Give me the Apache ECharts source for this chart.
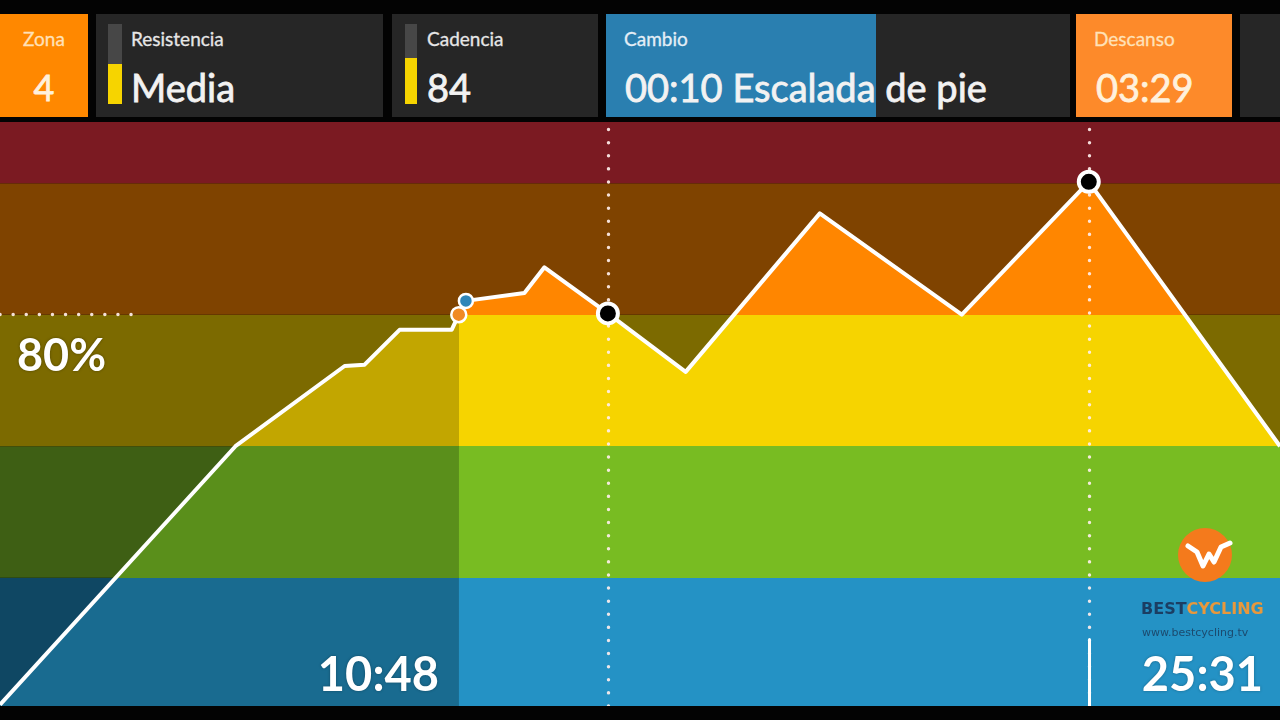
<!DOCTYPE html>
<html>
<head>
<meta charset="utf-8">
<title>Perfil de la clase</title>
<script src="https://cdn.jsdelivr.net/npm/echarts@6/dist/echarts.min.js"></script>
<style>
  html, body { margin: 0; padding: 0; width: 1280px; height: 720px; overflow: hidden; background: #030303; font-family: Lato, 'Open Sans', sans-serif; }
  .panel { position: absolute; top: 14px; height: 103px; background: #262626; color: #f2f2f2; overflow: hidden; }
  .orange { background: #ff8800; color: #fff1dc; }
  .lbl { position: absolute; top: 15px; font-size: 19px; line-height: 19px; color: #e6e6e6; white-space: nowrap; -webkit-text-stroke: 0.3px; }
  .orange .lbl { color: #ffe1b8; }
  .val { position: absolute; top: 54px; font-size: 38px; line-height: 38px; white-space: nowrap; -webkit-text-stroke: 0.8px; }
  .meter { position: absolute; top: 10px; width: 14px; height: 80px; background: #474747; }
  .meter i { position: absolute; left: 0; bottom: 0; width: 100%; background: #f6d400; }
  .progress { position: absolute; left: 0; top: 0; height: 103px; background: #2a7fb0; }
  #chart { position: absolute; left: 0; top: 122px; width: 1280px; height: 584px; }
</style>
</head>
<body>
<!-- barra superior -->
<div class="panel orange" style="left:0;width:88px">
  <div class="lbl" style="left:0;width:88px;text-align:center">Zona</div>
  <div class="val" style="left:0;width:88px;text-align:center;font-size:36px">4</div>
</div>
<div class="panel" style="left:96px;width:287px">
  <div class="meter" style="left:12px"><i style="height:40px"></i></div>
  <div class="lbl" style="left:35px">Resistencia</div>
  <div class="val" style="left:35px">Media</div>
</div>
<div class="panel" style="left:392px;width:206px">
  <div class="meter" style="left:13px;width:12px"><i style="height:46px"></i></div>
  <div class="lbl" style="left:35px">Cadencia</div>
  <div class="val" style="left:35px">84</div>
</div>
<div class="panel" style="left:606px;width:464px">
  <div class="progress" style="width:270px"></div>
  <div class="lbl" style="left:18px;color:#e4eef6">Cambio</div>
  <div class="val" style="left:19px">00:10 Escalada de pie</div>
</div>
<div class="panel orange" style="left:1076px;width:156px;background:#fd8a2a">
  <div class="lbl" style="left:18px">Descanso</div>
  <div class="val" style="left:20px">03:29</div>
</div>
<div class="panel" style="left:1240px;width:40px"></div>

<div id="chart"></div>

<script>
// perfil de la clase: tiempo (s) y carga (% FTP)
var profileTime = [5, 335, 488, 516, 565, 638, 648, 658, 740, 768, 857, 966, 1154, 1353, 1531, 1799]
var profileLoad = [20.7, 60.0, 72.2, 72.4, 77.7, 77.7, 80.0, 82.1, 83.3, 87.2, 80.2, 71.3, 95.4, 80.0, 100.2, 60.0]

var elapsedTime = 648 // 10:48
var elapsedLoad = 80.0
var riderTime = 658
var riderLoad = 82.1
var changeTime = [857, 1531] // cambios de bloque
var changeLoad = [80.2, 100.2]

var zoneEdges = [40, 60, 80, 100] // limites de zona (%)
var thresholdLoad = 80
var thresholdEnd = 191

var xMin = 5
var xMax = 1799
var yMin = 20.5
var yMax = 109.3

var darkColors = ['#0f4763', '#3e5f14', '#7c6a00', '#7f4300', '#7b1a22']
var brightColors = ['#2492c5', '#78bc22', '#f6d400', '#ff8600', '#e0303a']
var doneColors = ['#196b90', '#5a8f1b', '#c2a600', '#c46800', '#a02028']

function fmt(sec) {
  var m = Math.floor(sec / 60)
  var s = sec % 60
  return (m < 10 ? '0' : '') + m + ':' + (s < 10 ? '0' : '') + s
}

function pieces(colors) {
  var list = [{ lt: zoneEdges[0], color: colors[0] }]
  for (var i = 1; i < zoneEdges.length; i++) {
    list.push({ gte: zoneEdges[i - 1], lt: zoneEdges[i], color: colors[i] })
  }
  list.push({ gte: zoneEdges[zoneEdges.length - 1], color: colors[colors.length - 1] })
  return list
}

var profile = profileTime.map(function(t, i) { return [t, profileLoad[i]] })
var done = profile.filter(function(p) { return p[0] <= elapsedTime })
var todo = profile.filter(function(p) { return p[0] >= elapsedTime })

var bounds = [yMin].concat(zoneEdges, [yMax])
var bands = darkColors.map(function(c, i) {
  return [{ yAxis: bounds[i], itemStyle: { color: c } }, { yAxis: bounds[i + 1] }]
})

var dotStyle = { color: 'rgba(255,238,236,0.92)', width: 3.4, type: [0.1, 13], cap: 'round' }
var solidStyle = { color: '#ffffff', width: 3, type: 'solid' }

var chart = echarts.init(document.getElementById('chart'))
var option = {
  animation: false,
  backgroundColor: 'transparent',
  grid: { left: 0, right: 0, top: 0, bottom: 0 },
  xAxis: { type: 'value', min: xMin, max: xMax, show: false },
  yAxis: { type: 'value', min: yMin, max: yMax, show: false },
  visualMap: [
    { type: 'piecewise', show: false, seriesIndex: 1, dimension: 1, pieces: pieces(doneColors) },
    { type: 'piecewise', show: false, seriesIndex: 2, dimension: 1, pieces: pieces(brightColors) }
  ],
  series: [
    {
      name: 'zonas',
      type: 'line',
      z: 1,
      data: [[xMin, yMin]],
      symbol: 'none',
      lineStyle: { width: 0 },
      markArea: { silent: true, data: bands }
    },
    {
      name: 'hecho',
      type: 'line',
      z: 2,
      data: done,
      symbol: 'none',
      lineStyle: { width: 0 },
      areaStyle: { opacity: 1, origin: 'start' }
    },
    {
      name: 'pendiente',
      type: 'line',
      z: 2,
      data: todo,
      symbol: 'none',
      lineStyle: { width: 0 },
      areaStyle: { opacity: 1, origin: 'start' }
    },
    {
      name: 'perfil',
      type: 'line',
      z: 4,
      data: profile,
      symbol: 'none',
      lineStyle: { color: '#ffffff', width: 4, join: 'round' },
      markLine: {
        silent: true,
        symbol: 'none',
        label: { show: false },
        lineStyle: dotStyle,
        data: [
          { xAxis: changeTime[0] },
          { xAxis: changeTime[1] },
          [{ coord: [xMin, thresholdLoad] }, { coord: [thresholdEnd, thresholdLoad] }],
          [{ coord: [changeTime[1], yMin], lineStyle: solidStyle }, { coord: [changeTime[1], 30.6], lineStyle: solidStyle }]
        ]
      }
    },
    {
      name: 'cambios',
      type: 'scatter',
      z: 10,
      data: changeTime.map(function(t, i) { return [t, changeLoad[i]] }),
      symbolSize: 20,
      itemStyle: { color: '#000000', borderColor: '#ffffff', borderWidth: 4, opacity: 1 }
    },
    {
      name: 'ciclista',
      type: 'scatter',
      z: 11,
      data: [[riderTime, riderLoad]],
      symbolSize: 14,
      itemStyle: { color: '#2f86b9', borderColor: '#ffffff', borderWidth: 2.5, opacity: 1 }
    },
    {
      name: 'posicion',
      type: 'scatter',
      z: 12,
      data: [[elapsedTime, elapsedLoad]],
      symbolSize: 15,
      itemStyle: { color: '#f08a24', borderColor: '#ffffff', borderWidth: 2.5, opacity: 1 }
    }
  ],
  graphic: [
    {
      type: 'text', left: 17, top: 212, z: 20,
      style: { text: thresholdLoad + '%', font: 'bold 45px Lato, sans-serif', fill: '#ffffff',
        textShadowColor: 'rgba(0,0,0,0.35)', textShadowBlur: 3 }
    },
    {
      type: 'text', right: 841, top: 530, z: 20,
      style: { text: fmt(elapsedTime), font: 'bold 47px Lato, sans-serif', fill: '#ffffff',
        textShadowColor: 'rgba(0,0,0,0.3)', textShadowBlur: 3 }
    },
    {
      type: 'text', right: 17, top: 530, z: 20,
      style: { text: fmt(changeTime[1]), font: 'bold 47px Lato, sans-serif', fill: '#ffffff',
        textShadowColor: 'rgba(0,0,0,0.3)', textShadowBlur: 3 }
    },
    // logo
    {
      type: 'circle', z: 20, shape: { cx: 1205, cy: 433, r: 27 },
      style: { fill: '#f47a1c' }
    },
    {
      type: 'polyline', z: 21,
      shape: { points: [[1188, 424], [1197, 430], [1203, 444], [1209, 432], [1214, 440], [1221, 425], [1230, 421]] },
      style: { stroke: '#ffffff', lineWidth: 5, lineJoin: 'round', lineCap: 'round', fill: null }
    },
    {
      type: 'text', left: 1141, top: 480, z: 20,
      style: {
        text: '{a|BEST}{b|CYCLING}',
        rich: {
          a: { font: 'bold 16px "DejaVu Sans", sans-serif', fill: '#1b3e63' },
          b: { font: 'bold 16px "DejaVu Sans", sans-serif', fill: '#e8983c' }
        }
      }
    },
    {
      type: 'text', left: 1142, top: 506, z: 20,
      style: { text: 'www.bestcycling.tv', font: '11px "DejaVu Sans", sans-serif', fill: '#1c4a6e' }
    }
  ]
}
chart.setOption(option)
window.addEventListener('resize', function() {
  chart.resize()
})
</script>
</body>
</html>
